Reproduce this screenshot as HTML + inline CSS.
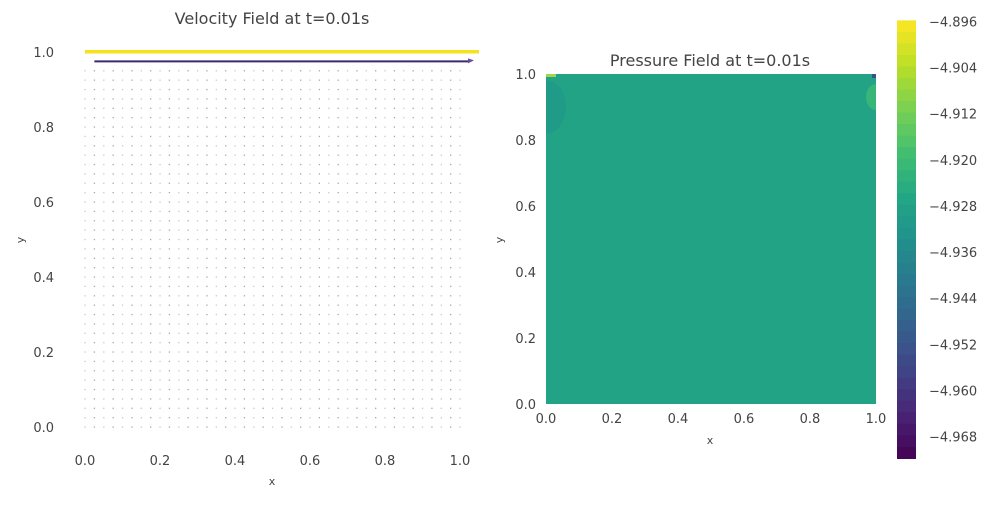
<!DOCTYPE html>
<html><head><meta charset="utf-8"><style>
body{margin:0;background:#fff;}
svg text{font-family:"DejaVu Sans","Liberation Sans",sans-serif;}
</style></head><body>
<svg width="1000" height="500" xmlns="http://www.w3.org/2000/svg" id="chart">
<defs><clipPath id="fieldclip"><rect x="546" y="74" width="330" height="330"/></clipPath></defs>
<g id="left"></g>
<g id="right"></g>
<g id="cbar"></g>
</svg>
<script>
const NS="http://www.w3.org/2000/svg";
// data
const gridN = 41;
const lidSpeed = [1.0];
const secondRowSpeed = [0.05];
const pressureBase = [-4.928];
const cbarTicks = [-4.896,-4.904,-4.912,-4.920,-4.928,-4.936,-4.944,-4.952,-4.960,-4.968];
const cbarMin = -4.9718, cbarMax = -4.8958;
const axisTicks = [0.0,0.2,0.4,0.6,0.8,1.0];
const viridis=[[68,1,84],[72,36,117],[65,68,135],[53,95,141],[42,120,142],[33,145,140],[34,168,132],[68,191,112],[122,209,81],[189,223,38],[253,231,37]];
function vcol(t){t=Math.max(0,Math.min(1,t));const f=t*10,i=Math.min(9,Math.floor(f)),r=f-i;const a=viridis[i],b=viridis[i+1];
 return 'rgb('+a.map((c,k)=>Math.round(c+(b[k]-c)*r)).join(',')+')';}
function mk(tag,attrs,parent){const e=document.createElementNS(NS,tag);for(const k in attrs)e.setAttribute(k,attrs[k]);parent.appendChild(e);return e;}
function txt(s,x,y,parent,opt){const t=mk('text',Object.assign({x:x,y:y,fill:'#444','font-size':13},opt||{}),parent);t.textContent=s;return t;}

// Left panel
const L=document.getElementById('left');
const lx=v=>85+v*375, ly=v=>427-v*375;
const lt=txt('Velocity Field at t=0.01s',272,24,L,{'text-anchor':'middle','font-size':16});


axisTicks.forEach(v=>{
  const a=txt(v.toFixed(1),lx(v),465,L,{'text-anchor':'middle'});
  
  
  const b=txt(v.toFixed(1),54,ly(v)+5,L,{'text-anchor':'end'});
  
  
});
const xt=txt('x',272,485,L,{'text-anchor':'middle','font-size':11});


const yt=txt('y',24,240,L,{'text-anchor':'middle','font-size':11,transform:'rotate(-90 24 240)'});


for(let i=0;i<gridN;i++)for(let j=0;j<gridN-2;j++){
  const x=lx(i/(gridN-1)),y=ly(j/(gridN-1));
  const d=mk('rect',{x:x-0.6,y:y-0.6,width:1.3,height:1.3,fill:(i%2? '#b59ac4':'#c8c8d0')},L);
  
  
}
const y2=ly((gridN-2)/(gridN-1));
const a2=mk('line',{x1:lx(0.025),y1:y2,x2:lx(0.025)+secondRowSpeed[0]*7500,y2:y2,stroke:'#3b2a6e','stroke-width':2},L);


const ah=mk('polygon',{points:`${lx(1)+14},${y2-1} ${lx(1)+8},${y2+2} ${lx(1)+8},${y2-3}`,fill:'#6a4c9c'},L);


const lid=mk('rect',{x:lx(0),y:ly(1)-2,width:lidSpeed[0]*394,height:3.5,fill:'#f6e11e'},L);



// Right panel
const R=document.getElementById('right');
const rx=v=>546+v*330, ry=v=>404-v*330;
const norm=v=>(v-cbarMin)/(cbarMax-cbarMin);
const rt=txt('Pressure Field at t=0.01s',710,66,R,{'text-anchor':'middle','font-size':16});


const field=mk('rect',{x:rx(0),y:ry(1),width:330,height:330,fill:vcol(norm(pressureBase[0]))},R);


const FG=mk('g',{'clip-path':'url(#fieldclip)'},R);


const e1=mk('ellipse',{cx:rx(0),cy:ry(0.9),rx:20,ry:27,fill:'#1f968a',opacity:0.55},FG);


const e2=mk('ellipse',{cx:rx(1),cy:ry(0.93),rx:10,ry:13,fill:'#3bb878',opacity:0.9},FG);


const c1=mk('rect',{x:rx(0),y:ry(1),width:10,height:3,fill:'#9fd64a'},FG);


const c2=mk('rect',{x:rx(1)-4,y:ry(1),width:4,height:4,fill:'#3b4f8c'},FG);


axisTicks.forEach(v=>{
  const a=txt(v.toFixed(1),rx(v),423,R,{'text-anchor':'middle'});
  
  
  const b=txt(v.toFixed(1),536,ry(v)+5,R,{'text-anchor':'end'});
  
  
});
const rxt=txt('x',710,444,R,{'text-anchor':'middle','font-size':11});


const ryt=txt('y',503,240,R,{'text-anchor':'middle','font-size':11,transform:'rotate(-90 503 240)'});



// Colorbar
const C=document.getElementById('cbar');
const cy=v=>21.5+(-4.896-v)/0.072*415;
const cTop=cy(cbarMax), cBot=cy(cbarMin);
const nb=38;
for(let k=0;k<nb;k++){
  const v0=cbarMax-(k+0.5)*(cbarMax-cbarMin)/nb;
  const y0=cTop+k*(cBot-cTop)/nb;
  const r=mk('rect',{x:897,y:y0,width:19,height:(cBot-cTop)/nb+0.6,fill:vcol(norm(v0))},C);
  
  
}
cbarTicks.forEach(v=>{
  const t=txt('\u2212'+Math.abs(v).toFixed(3),929,cy(v)+5,C,{'font-size':13});
  
  
});
</script>
</body></html>
